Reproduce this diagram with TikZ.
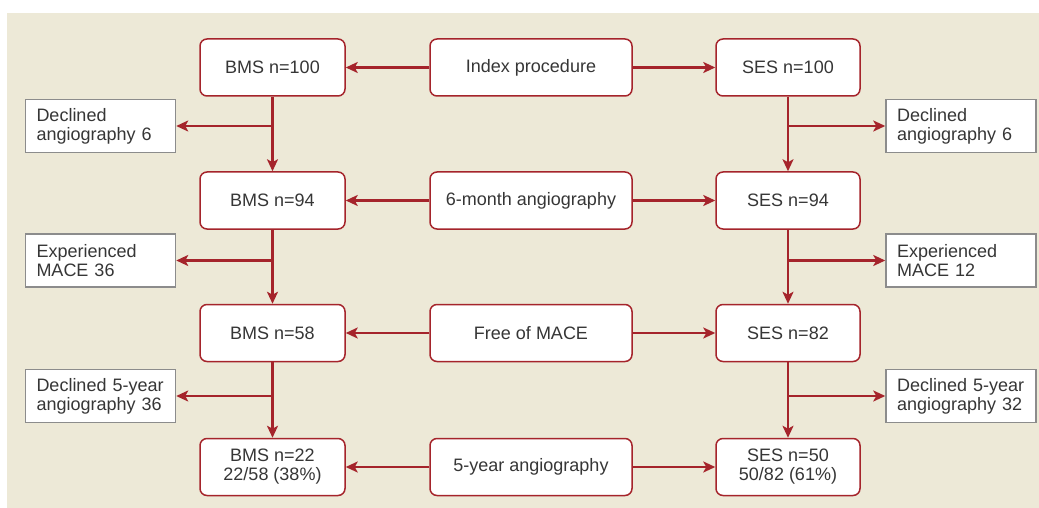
\documentclass[tikz,border=0pt]{standalone}
\usepackage{fontspec}
\setmainfont{Liberation Sans}
\usetikzlibrary{arrows.meta}
\definecolor{arrred}{HTML}{A5242B}
\definecolor{bgbeige}{HTML}{EDE9D7}
\definecolor{boxgrey}{HTML}{8C8C8C}
\definecolor{txtgrey}{HTML}{363636}

\begin{document}
\begin{tikzpicture}[x=1pt,y=-1pt,
	every node/.style={font=\fontsize{18}{19}\selectfont,text=txtgrey},
	mainbox/.style={draw=arrred,line width=1.5pt,fill=white,rounded corners=7pt,minimum height=57pt,align=center},
	sidebox/.style={draw=boxgrey,line width=1.5pt,fill=white,minimum height=53pt,inner xsep=11pt,text width=128pt,align=left},
	flow/.style={arrred,line width=2.5pt,-{Stealth[length=12pt,width=11pt,inset=3pt]}}]
	\useasboundingbox (0,0) rectangle (1039,508);
	\fill[bgbeige] (7,13) rectangle (1039,508);
	% centre column
	\node[mainbox,minimum width=202pt] (idx) at (531,67.5) {Index procedure};
	\node[mainbox,minimum width=202pt] (six) at (531,200.5) {6-month angiography};
	\node[mainbox,minimum width=202pt] (free) at (531,333) {Free of MACE};
	\node[mainbox,minimum width=202pt] (five) at (531,467) {5-year angiography};
	% BMS
	\node[mainbox,minimum width=145pt] (bmsa) at (272.5,67.5) {BMS n=100};
	\node[mainbox,minimum width=145pt] (bmsb) at (272.5,200.5) {BMS n=94};
	\node[mainbox,minimum width=145pt] (bmsc) at (272.5,333) {BMS n=58};
	\node[mainbox,minimum width=145pt] (bmsd) at (272.5,467) {BMS n=22\\22/58 (38\%)};
	% SES
	\node[mainbox,minimum width=144pt] (sesa) at (788,67.5) {SES n=100};
	\node[mainbox,minimum width=144pt] (sesb) at (788,200.5) {SES n=94};
	\node[mainbox,minimum width=144pt] (sesc) at (788,333) {SES n=82};
	\node[mainbox,minimum width=144pt] (sesd) at (788,467) {SES n=50\\50/82 (61\%)};
	% side boxes
	\node[sidebox] (bmsx) at (100.5,126) {Declined\\angiography 6};
	\node[sidebox] (bmsy) at (100.5,260.5) {Experienced\\MACE 36};
	\node[sidebox] (bmsz) at (100.5,396) {Declined 5-year\\angiography 36};
	\node[sidebox] (sesx) at (961,126) {Declined\\angiography 6};
	\node[sidebox] (sesy) at (961,260.5) {Experienced\\MACE 12};
	\node[sidebox] (sesz) at (961,396) {Declined 5-year\\angiography 32};
	% arrows
	\foreach \c/\l/\r in {idx/bmsa/sesa,six/bmsb/sesb,free/bmsc/sesc,five/bmsd/sesd}{
		\draw[flow] (\c.west) -- (\l.east);
		\draw[flow] (\c.east) -- (\r.west);
	}
	\foreach \a/\b/\s in {bmsa/bmsb/bmsx,bmsb/bmsc/bmsy,bmsc/bmsd/bmsz,sesa/sesb/sesx,sesb/sesc/sesy,sesc/sesd/sesz}{
		\draw[flow] (\a.south) -- (\b.north);
		\draw[flow] (\a.south |- \s.east) -- (\s);
	}
\end{tikzpicture}
\end{document}
